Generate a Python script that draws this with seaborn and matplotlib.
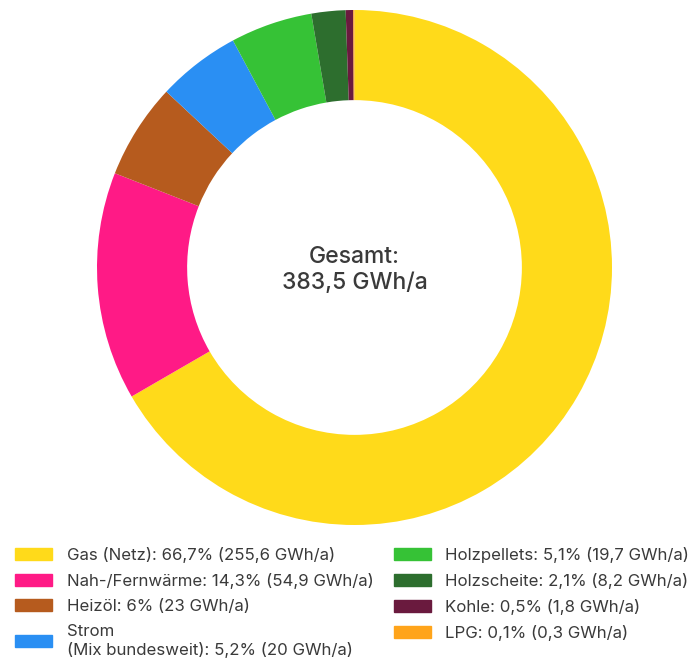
import matplotlib.pyplot as plt
import matplotlib.patches as mpatches
import seaborn as sns

sns.set_theme(style="white")
plt.rcParams['font.family'] = ['Inter', 'DejaVu Sans']

# data (GWh/a)
sources = ['Gas (Netz)', 'Nah-/Fernwärme', 'Heizöl', 'Strom\n(Mix bundesweit)',
           'Holzpellets', 'Holzscheite', 'Kohle', 'LPG']
gwh = [255.6, 54.9, 23, 20, 19.7, 8.2, 1.8, 0.3]
shares = ['66,7', '14,3', '6', '5,2', '5,1', '2,1', '0,5', '0,1']
gwh_labels = ['255,6', '54,9', '23', '20', '19,7', '8,2', '1,8', '0,3']
colors = ['#FFDA1A', '#FF1A86', '#B65B1E', '#2A8FF3',
          '#36C236', '#2D6E2E', '#6A1A3E', '#FFA41A']
total_label = '383,5 GWh/a'

text_color = '#3a3a3a'

fig = plt.figure(figsize=(6.96, 6.63), dpi=100)

# donut
ax = fig.add_axes([97 / 696, 138 / 663, 515 / 696, 515 / 663])
ax.pie(gwh, colors=colors, startangle=90, counterclock=False, radius=1,
       wedgeprops=dict(width=0.35, linewidth=0))
ax.set_xlim(-1, 1)
ax.set_ylim(-1, 1)
ax.text(0, 0.04, 'Gesamt:', ha='center', va='center', fontsize=16.5,
        color=text_color, fontweight='medium')
ax.text(0, -0.062, total_label, ha='center', va='center', fontsize=16.5,
        color=text_color, fontweight='medium')

# legend
handles = [mpatches.Patch(color=c) for c in colors]
labels = [f'{s}: {p}% ({g} GWh/a)' for s, p, g in zip(sources, shares, gwh_labels)]
leg = fig.legend(handles, labels, ncol=2, loc='upper left',
                 bbox_to_anchor=(15 / 696, 1 - 547 / 663),
                 frameon=False, fontsize=12.1, handlelength=2.2,
                 handleheight=0.71, handletextpad=0.88, labelspacing=0.6,
                 columnspacing=1.2, borderaxespad=0, borderpad=0)
for t in leg.get_texts():
    t.set_color(text_color)

plt.savefig('out.png', dpi=100)
